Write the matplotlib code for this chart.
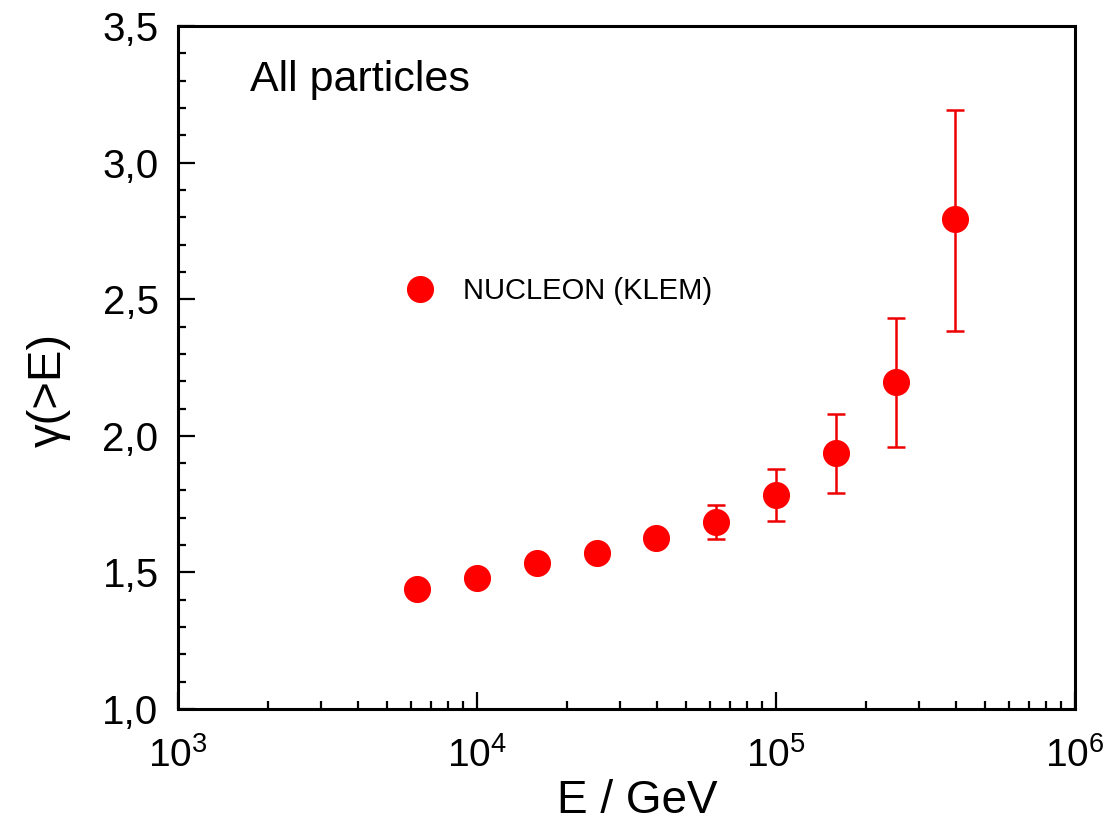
import numpy as np
import matplotlib
matplotlib.use('Agg')
import matplotlib.pyplot as plt
from matplotlib.ticker import FuncFormatter, MultipleLocator, LogLocator, NullFormatter

plt.rcParams['font.family'] = ['Liberation Sans', 'DejaVu Sans']
plt.rcParams['mathtext.fontset'] = 'custom'
plt.rcParams['mathtext.rm'] = 'Liberation Sans'
plt.rcParams['mathtext.it'] = 'Liberation Sans:italic'
plt.rcParams['mathtext.bf'] = 'Liberation Sans:bold'

# NUCLEON (KLEM), all particles
energy = [6.31e3, 1.0e4, 1.585e4, 2.512e4, 3.981e4, 6.31e4, 1.0e5, 1.585e5, 2.512e5, 3.981e5]
gamma = [1.44, 1.48, 1.534, 1.571, 1.626, 1.684, 1.783, 1.937, 2.197, 2.794]
err_low = [0.0, 0.0, 0.0, 0.0, 0.0, 0.062, 0.095, 0.146, 0.238, 0.410]
err_high = [0.0, 0.0, 0.0, 0.0, 0.0, 0.063, 0.095, 0.143, 0.234, 0.399]

red = '#ff0000'

fig = plt.figure(figsize=(11.09, 8.32), dpi=100)
ax = fig.add_axes([0.1605, 0.1478, 0.8088, 0.8209])

ax.errorbar(energy, gamma, yerr=[err_low, err_high], fmt='none', ecolor='#ee0000',
            elinewidth=1.8, capsize=6.5, capthick=1.8)
ax.plot(energy, gamma, 'o', color=red, ms=18.5, label='NUCLEON (KLEM)')

ax.set_xscale('log')
ax.set_xlim(1e3, 1e6)
ax.set_ylim(1.0, 3.5)

ax.yaxis.set_major_locator(MultipleLocator(0.5))
ax.yaxis.set_minor_locator(MultipleLocator(0.1))
ax.yaxis.set_major_formatter(FuncFormatter(lambda v, p: f'{v:.1f}'.replace('.', ',')))
ax.xaxis.set_major_locator(LogLocator(base=10, numticks=10))
ax.xaxis.set_minor_locator(LogLocator(base=10, subs=np.arange(2, 10), numticks=20))
ax.xaxis.set_minor_formatter(NullFormatter())

for s in ax.spines.values():
    s.set_linewidth(2.2)

ax.tick_params(which='both', direction='in', top=False, right=False, width=1.6)
ax.tick_params(which='major', length=12, labelsize=28)
ax.tick_params(axis='y', which='major', pad=14, labelsize=29)
ax.tick_params(axis='x', which='major', pad=20)
ax.tick_params(which='minor', length=6)

ax.set_xlabel('E / GeV', fontsize=33)
ax.set_ylabel('γ(>E)', fontsize=34)
ax.xaxis.set_label_coords(0.512, -0.103)
ax.yaxis.set_label_coords(-0.12, 0.467)

ax.text(0.080, 0.921, 'All particles', transform=ax.transAxes,
        fontsize=31, ha='left', va='center')

ax.legend(loc='center left', bbox_to_anchor=(0.254, 0.612), frameon=False,
          fontsize=21, numpoints=1, handlelength=1.0, handletextpad=0.95,
          borderpad=0, borderaxespad=0)

fig.savefig('out.png', dpi=100)
